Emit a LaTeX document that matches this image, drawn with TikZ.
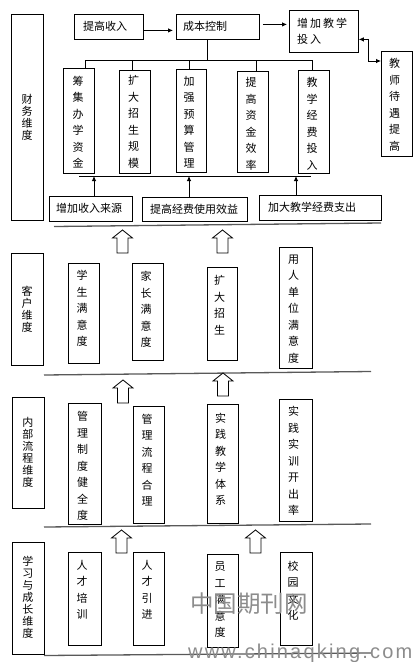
\documentclass[tikz,border=0pt]{standalone}
\usepackage{fontspec}
\setmainfont{Noto Sans CJK SC}
\newfontfamily\cjkw[LetterSpace=18]{Noto Sans CJK SC}
\newfontfamily\wmfont[LetterSpace=11]{Liberation Sans}
\usetikzlibrary{arrows.meta}
\tikzset{
  bx/.style={draw, line width=0.8pt, inner sep=0pt, anchor=north west},
  htext/.style={inner sep=0pt, anchor=west, font=\fontsize{11}{16}\selectfont},
  vtext/.style={align=center, inner sep=0pt, font=\fontsize{11}{16.5}\selectfont},
  ltext/.style={align=center, inner sep=0pt, font=\fontsize{11}{12}\selectfont},
  con/.style={line width=0.8pt},
  arr/.style={con, -{Latex[length=5pt,width=4.5pt]}},
  darr/.style={con, {Latex[length=5pt,width=4.5pt]}-{Latex[length=5pt,width=4.5pt]}},
  sepline/.style={line width=1.3pt, black!65},
  hol/.style={line width=0.8pt, fill=white},
  wmark/.style={inner sep=0pt, text=black!45},
}
\newcommand\Bx[5]{\node[bx, minimum width={(#4-#2)*1pt}, minimum height={(#5-#3)*1pt}] (#1) at (#2,#3) {};}
\newcommand\Uarr[3]{\draw[hol] (#1-5.5,#3) -- (#1-5.5,#2+8) -- (#1-10,#2+8) -- (#1,#2) -- (#1+10,#2+8) -- (#1+5.5,#2+8) -- (#1+5.5,#3) -- cycle;}
\begin{document}
\begin{tikzpicture}[x=1pt,y=-1pt]
\useasboundingbox[fill=white] (0,0) rectangle (418,662);

% ---------- financial dimension ----------
\Bx{cw}{11}{14}{43}{220}
\node[ltext] (cwt) at (27,117) {财\\务\\维\\度};

\Bx{tgsr}{74}{14}{143}{39}
\node[htext] (tgsrt) at (83,26.5) {提高收入};
\Bx{cbkz}{176}{14}{259}{39}
\node[htext] (cbkzt) at (183,26.5) {成本控制};
\Bx{zjjx}{289}{10}{358}{52}
\node[htext, align=left, font={\cjkw\fontsize{11}{16}\selectfont}] (zjjxt) at (297,31) {增加教学\\投入};
\Bx{jsdy}{381}{51}{412}{156}
\node[vtext] (jsdyt) at (394.5,105) {教\\师\\待\\遇\\提\\高};

\Bx{b1}{63}{68}{94}{173}
\node[vtext] (b1t) at (78,122) {筹\\集\\办\\学\\资\\金};
\Bx{b2}{119}{70}{150}{173}
\node[vtext] (b2t) at (133.5,122) {扩\\大\\招\\生\\规\\模};
\Bx{b3}{176}{69}{206}{172}
\node[vtext] (b3t) at (189,122) {加\\强\\预\\算\\管\\理};
\Bx{b4}{237}{71}{268}{172}
\node[vtext] (b4t) at (251,124) {提\\高\\资\\金\\效\\率};
\Bx{b5}{298}{70}{329}{173}
\node[vtext] (b5t) at (312,124) {教\\学\\经\\费\\投\\入};

\Bx{s1}{49}{196}{132}{221}
\node[htext] (s1t) at (56,208.5) {增加收入来源};
\Bx{s2}{142}{197}{247}{221}
\node[htext] (s2t) at (150,209) {提高经费使用效益};
\Bx{s3}{259}{195}{381}{220}
\node[htext] (s3t) at (268,207.5) {加大教学经费支出};

% top arrows
\coordinate (c1) at ([yshift=-3.5pt]tgsr.east);
\draw[arr, shorten >=3pt] (c1) -- (c1 -| cbkz.west);
\coordinate (c2) at ([yshift=2.5pt]cbkz.east);
\draw[arr, shorten <=3pt, shorten >=2pt] (c2) -- (c2 -| zjjx.west);
\coordinate (c3) at ([yshift=-8pt]zjjx.east);
\coordinate (c4) at ([yshift=-10pt]jsdy.north west);
\draw[darr] (c3) -- ++(10,0) |- (c4);

% tree below cost control
\coordinate (tt) at (207,60);
\draw[con] (tt |- cbkz.south) -- (tt);
\coordinate (d1) at (85,60);
\coordinate (d2) at (132,60);
\coordinate (d3) at (189,60);
\coordinate (d4) at (256,60);
\coordinate (d5) at (312,60);
\draw[con] (d1) -- (d5);
\foreach \i in {1,...,5} {\draw[con] (d\i) -- (d\i |- b\i.north);}

% bar with arrows
\coordinate (l1) at (79,176);
\coordinate (l2) at (311,176);
\draw[con] (l1) -- (l2);
\coordinate (a1) at (94,176);
\coordinate (a2) at (189,176);
\coordinate (a3) at (296,176);
\draw[arr] (a1 |- s1.north) -- (a1);
\draw[arr] (a2 |- s2.north) -- (a2);
\draw[arr] (a3 |- s3.north) -- (a3);

% separators
\draw[sepline] (54,226.5) -- (381,223);
\draw[sepline] (44,375) -- (371,371.5);
\draw[sepline] (44,527) -- (371,524);
\draw[sepline] (44,655.5) -- (371,653);

% hollow arrows
\Uarr{122.5}{230}{253}
\Uarr{222.5}{230}{253}
\Uarr{123}{380}{403}
\Uarr{223}{373}{396}
\Uarr{121.5}{530}{553}
\Uarr{255.5}{530}{553}

% ---------- customer dimension ----------
\Bx{kh}{11}{253}{43}{365}
\node[ltext] (kht) at (27,309) {客\\户\\维\\度};
\Bx{k1}{68}{263}{99}{363}
\node[vtext] (k1t) at (82,308.5) {学\\生\\满\\意\\度};
\Bx{k2}{132}{263}{163}{360}
\node[vtext] (k2t) at (146,309.5) {家\\长\\满\\意\\度};
\Bx{k3}{207}{267}{237}{360}
\node[vtext] (k3t) at (219.5,305) {扩\\大\\招\\生};
\Bx{k4}{279}{247}{312}{368}
\node[vtext] (k4t) at (293.5,309) {用\\人\\单\\位\\满\\意\\度};

% ---------- internal process dimension ----------
\Bx{nb}{12}{397}{44}{508}
\node[ltext] (nbt) at (28,452) {内\\部\\流\\程\\维\\度};
\Bx{n1}{68}{403}{101}{524}
\node[vtext] (n1t) at (82.5,466) {管\\理\\制\\度\\健\\全\\度};
\Bx{n2}{133}{406}{164}{523}
\node[vtext] (n2t) at (147,460) {管\\理\\流\\程\\合\\理};
\Bx{n3}{207}{404}{238}{523}
\node[vtext] (n3t) at (220.5,459) {实\\践\\教\\学\\体\\系};
\Bx{n4}{279}{399}{312}{521}
\node[vtext] (n4t) at (293.5,461) {实\\践\\实\\训\\开\\出\\率};

% ---------- learning and growth dimension ----------
\Bx{xx}{12}{542}{44}{654}
\node[ltext] (xxt) at (28,597.5) {学\\习\\与\\成\\长\\维\\度};
\Bx{x1}{68}{552}{101}{645}
\node[vtext] (x1t) at (82,590) {人\\才\\培\\训};
\Bx{x2}{133}{552}{164}{645}
\node[vtext] (x2t) at (147,590) {人\\才\\引\\进};
\Bx{x3}{207}{554}{238}{647}
\node[vtext] (x3t) at (220,600) {员\\工\\满\\意\\度};
\Bx{x4}{280}{552}{312}{645}
\node[vtext] (x4t) at (293,591) {校\\园\\文\\化};

% ---------- watermark ----------
\node[wmark, anchor=west, font=\fontsize{23.5}{24}\selectfont] (wm1) at (190,604) {中国期刊网};
\node[wmark, anchor=base west, font={\wmfont\fontsize{20}{20}\selectfont}] (wm2) at (188,658) {www.chinaqking.com};
\end{tikzpicture}
\end{document}
